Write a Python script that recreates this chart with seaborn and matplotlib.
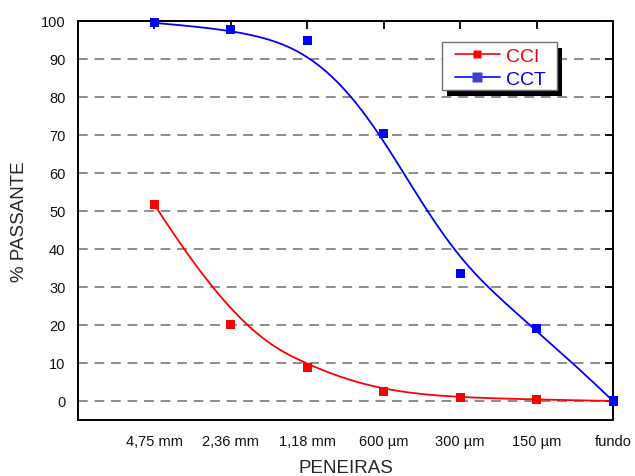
import numpy as np
import pandas as pd
import matplotlib
matplotlib.use("Agg")
import matplotlib.pyplot as plt
from matplotlib.lines import Line2D
from matplotlib.patches import Rectangle
import seaborn as sns

# Sieve openings and percent passing for each sample
peneiras = ["4,75 mm", "2,36 mm", "1,18 mm", "600 µm", "300 µm", "150 µm", "fundo"]
cci = [51.7, 20.2, 8.8, 2.6, 0.8, 0.4, 0.0]
cct = [99.5, 97.8, 94.8, 70.3, 33.5, 19.2, 0.0]

pos = np.arange(1, len(peneiras) + 1, dtype=float)


def bspline_curve(px, py, n=400, k=3):
    """Clamped uniform B-spline using the data points as control points."""
    m = len(px)
    inner = np.arange(1, m - k)
    knots = np.concatenate([np.zeros(k + 1), inner, np.full(k + 1, m - k)]).astype(float)
    u = np.linspace(0, m - k, n)
    u[-1] -= 1e-9

    def basis(i, p, t):
        if p == 0:
            return ((knots[i] <= t) & (t < knots[i + 1])).astype(float)
        out = np.zeros_like(t)
        d1 = knots[i + p] - knots[i]
        d2 = knots[i + p + 1] - knots[i + 1]
        if d1 > 0:
            out += (t - knots[i]) / d1 * basis(i, p - 1, t)
        if d2 > 0:
            out += (knots[i + p + 1] - t) / d2 * basis(i + 1, p - 1, t)
        return out

    B = np.array([basis(i, k, u) for i in range(m)])
    return B.T @ np.asarray(px, float), B.T @ np.asarray(py, float)


cx1, cy1 = bspline_curve(pos, cci)
cx2, cy2 = bspline_curve(pos, cct)

pts = pd.DataFrame({"x": np.concatenate([pos, pos]),
                    "y": cci + cct,
                    "amostra": ["CCI"] * 7 + ["CCT"] * 7})
curves = pd.DataFrame({"x": np.concatenate([cx1, cx2]),
                       "y": np.concatenate([cy1, cy2]),
                       "amostra": ["CCI"] * len(cx1) + ["CCT"] * len(cx2)})

sns.set_style("white")
plt.rcParams["font.family"] = ["Liberation Sans", "DejaVu Sans"]

palette = {"CCI": "#ff0000", "CCT": "#0000ff"}

fig = plt.figure(figsize=(6.35, 4.77), dpi=100)
ax = fig.add_axes([0.1228, 0.1174, 0.8426, 0.8365])

# horizontal dashed guides
for yv in range(0, 100, 10):
    ax.axhline(yv, color="#8c8c8c", lw=1.4, ls=(0, (5, 3.5)), zorder=0)

sns.lineplot(data=curves, x="x", y="y", hue="amostra", palette=palette,
             lw=1.3, sort=False, estimator=None, legend=False, ax=ax, zorder=2)
sns.scatterplot(data=pts, x="x", y="y", hue="amostra", palette=palette,
                marker="s", s=42, edgecolor="none", legend=False, ax=ax,
                zorder=3, clip_on=False)

ax.set_xlim(0, 7)
ax.set_ylim(-5, 100)
ax.set_xticks(np.arange(0, 8))
ax.set_xticklabels([""] + peneiras)
ax.set_yticks(np.arange(0, 101, 10))

for s in ax.spines.values():
    s.set_color("black")
    s.set_linewidth(1.4)
    s.set_visible(True)

ax.tick_params(axis="both", which="major", labelsize=10.5, color="black",
               width=1.3, length=6, labelcolor="#111111", direction="out")
ax.tick_params(axis="x", pad=4)
ax.tick_params(axis="y", pad=3)

# mirrored ticks on top and right, pointing inward
top = ax.secondary_xaxis("top")
top.set_xticks(np.arange(0, 8))
top.tick_params(direction="in", length=6, width=1.3, color="black",
                labeltop=False)
top.spines["top"].set_linewidth(1.4)
right = ax.secondary_yaxis("right")
right.set_yticks(np.arange(0, 101, 10))
right.tick_params(direction="in", length=6, width=1.3, color="black",
                  labelright=False)
right.spines["right"].set_linewidth(1.4)

ax.set_xlabel("PENEIRAS", fontsize=13.5, labelpad=8)
ax.set_ylabel("% PASSANTE", fontsize=13.5, labelpad=9)

# legend box with a solid drop shadow
bx0, bx1 = 441.7 / 635, 556.7 / 635
by1, by0 = 1 - 43.3 / 477, 1 - 91.0 / 477
sdx, sdy = 5.5 / 635, 6.0 / 477
fig.patches.append(Rectangle((bx0 + sdx, by0 - sdy), bx1 - bx0, by1 - by0,
                             transform=fig.transFigure, facecolor="black",
                             edgecolor="none", zorder=5))
fig.patches.append(Rectangle((bx0, by0), bx1 - bx0, by1 - by0,
                             transform=fig.transFigure, facecolor="white",
                             edgecolor="#707070", lw=1.0, zorder=6))

handles = [
    Line2D([], [], color="#ff0000", lw=1.2, marker="s", ms=6,
           markeredgecolor="none"),
    Line2D([], [], color="#0000ff", lw=1.2, marker="s", ms=6.5,
           markerfacecolor="#4040d0", markeredgecolor="none"),
]
leg = fig.legend(handles, ["CCI", "CCT"], loc="upper left",
                 bbox_to_anchor=(455 / 635, 1 - 48.5 / 477), fontsize=14,
                 frameon=False, borderpad=0, handlelength=2.3,
                 handletextpad=0.3, labelspacing=0.25, borderaxespad=0)
leg.set_zorder(7)
for txt, c in zip(leg.get_texts(), ["#ff0000", "#0000ff"]):
    txt.set_color(c)

fig.savefig("out.png", dpi=100)
